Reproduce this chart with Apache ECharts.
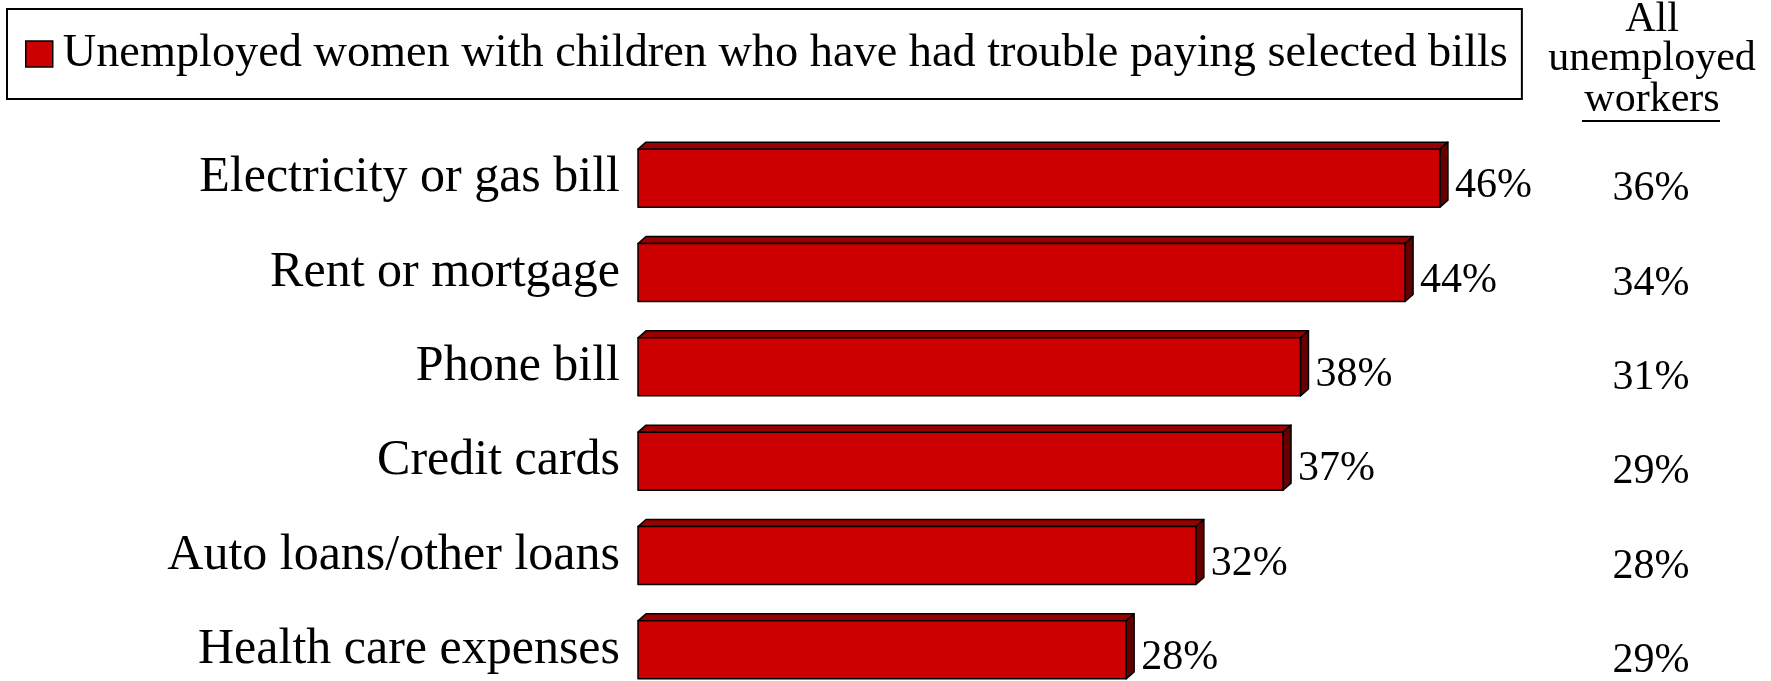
<!DOCTYPE html>
<html><head><meta charset="utf-8">
<script src="https://cdn.jsdelivr.net/npm/echarts@6/dist/echarts.min.js"></script>
<style>html,body{margin:0;padding:0;background:#fff}#c{width:1771px;height:681px}</style>
</head><body><div id="c"></div>
<script>
const categories = ['Electricity or gas bill','Rent or mortgage','Phone bill','Credit cards','Auto loans/other loans','Health care expenses'];
const womenWithChildren = [46,44,38,37,32,28];
const allUnemployed = [36,34,31,29,28,29];
const seriesName = 'Unemployed women with children who have had trouble paying selected bills';
const headerLines = ['All','unemployed','workers'];

const FONT = '"Liberation Serif", "Times New Roman", serif';
const chart = echarts.init(document.getElementById('c'), null, {renderer:'canvas'});
const DX = 8, DY = 7;

function renderBar(params, api){
  const val = api.value(0);
  const cat = api.value(1);
  const p0 = api.coord([0, cat]);
  const p1 = api.coord([val, cat]);
  const h = api.size([0, 1])[1] * 0.615;
  const x0 = p0[0], x1 = p1[0], yT = p0[1] - h/2, yB = p0[1] + h/2;
  const st = (fill) => ({fill: fill, stroke:'#000', lineWidth:1.5, lineJoin:'round'});
  return {type:'group', children:[
    {type:'polygon', shape:{points:[[x0,yT],[x0+DX,yT-DY],[x1+DX,yT-DY],[x1,yT]]}, style:st('#990000')},
    {type:'polygon', shape:{points:[[x1,yT],[x1+DX,yT-DY],[x1+DX,yB-DY],[x1,yB]]}, style:st('#660000')},
    {type:'rect', shape:{x:x0, y:yT, width:x1-x0, height:h}, style:st('#CC0000')},
    {type:'text', style:{text: val + '%', x: x1 + DX + 7, y: p0[1] + 8, align:'left', verticalAlign:'middle', fontSize:42, fontFamily:FONT, fill:'#000'}}
  ]};
}

// right-hand column: value of all unemployed workers, placed on the category rows
function renderColumn(params, api){
  const cat = api.value(1);
  const pRight = api.coord([60, cat]);
  return {type:'text', style:{text: api.value(0) + '%', x: pRight[0] - 33, y: pRight[1] + 11, align:'center', verticalAlign:'middle', fontSize:42, fontFamily:FONT, fill:'#000'}};
}

const headerY = [20, 59, 100];
const graphics = headerLines.map((t, i) => ({
  type:'text', z:10,
  style:{text:t, x:1652, y:headerY[i], align:'center', verticalAlign:'middle', fontSize:42, fontFamily:FONT, fill:'#000'}
}));
graphics.push({type:'line', z:10, shape:{x1:1582, y1:121, x2:1720, y2:121}, style:{stroke:'#000', lineWidth:2}});

const option = {
  backgroundColor:'#fff',
  animation:false,
  legend:{
    show:true, left:7, top:9, orient:'horizontal', selectedMode:false,
    data:[{name:seriesName, icon:'rect', itemStyle:{color:'#CC0000', borderColor:'#000', borderWidth:1.5}}],
    itemWidth:27, itemHeight:26,
    borderColor:'#000', borderWidth:2, borderRadius:0,
    padding:[19,14,19,18],
    textStyle:{fontSize:46.3, fontFamily:FONT, color:'#000', lineHeight:52, padding:[0,0,0,5]}
  },
  grid:{left:638, width:1046, top:131, height:566, containLabel:false, outerBoundsMode:'none'},
  xAxis:{type:'value', min:0, max:60, show:false},
  yAxis:{type:'category', data:categories, inverse:true,
     axisLine:{show:false}, axisTick:{show:false}, splitLine:{show:false},
     axisLabel:{fontSize:50, fontFamily:FONT, color:'#000', margin:18}},
  series:[{
    type:'custom', name:seriesName, renderItem:renderBar,
    itemStyle:{color:'#CC0000'},
    encode:{x:0, y:1},
    data: womenWithChildren.map((v, i) => [v, i]),
    clip:false
  },{
    type:'custom', name:'All unemployed workers', renderItem:renderColumn,
    encode:{x:0, y:1},
    data: allUnemployed.map((v, i) => [v, i]),
    clip:false, silent:true
  }],
  graphic:graphics
};
chart.setOption(option);
</script>
</body></html>
